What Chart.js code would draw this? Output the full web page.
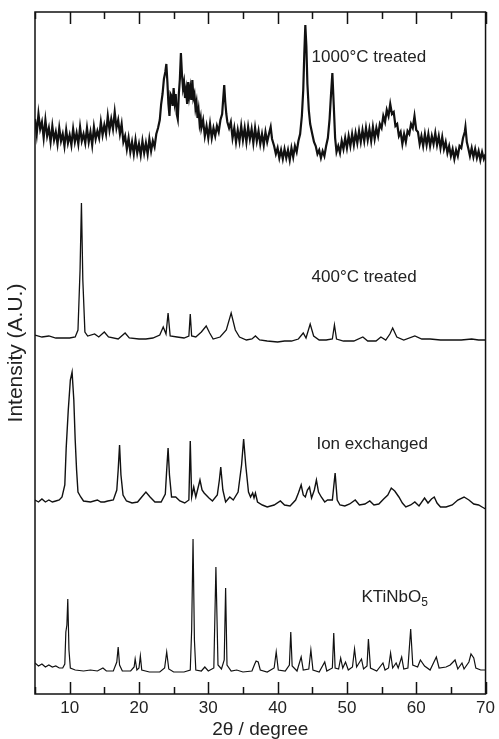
<!DOCTYPE html>
<html>
<head>
<meta charset="utf-8">
<script src="https://cdn.jsdelivr.net/npm/chart.js@4.4.0/dist/chart.umd.min.js"></script>
<style>
  body { margin: 0; background: #fff; }
  #wrap { width: 499px; height: 739px; }
</style>
</head>
<body>
<div id="wrap"><canvas id="xrdChart"></canvas></div>
<script>
// XRD patterns, [2theta, intensity (a.u., stacked)]
const treated1000 = [
  [5.00,575],[5.25,560],[5.50,580],[5.75,565],[6.00,572],[6.25,556],[6.50,574],[6.75,558],[7.00,566],[7.25,552],
  [7.50,568],[7.75,554],[8.00,562],[8.25,550],[8.50,566],[8.75,553],[9.00,560],[9.25,548],[9.50,564],[9.75,551],
  [10.00,559],[10.25,549],[10.50,565],[10.75,552],[11.00,561],[11.25,550],[11.50,567],[11.75,553],[12.00,560],[12.25,551],
  [12.50,566],[12.75,552],[13.00,562],[13.25,549],[13.50,567],[13.75,555],[14.00,563],[14.25,556],[14.50,572],[14.75,559],
  [15.00,569],[15.25,560],[15.50,578],[15.75,564],[16.00,575],[16.25,565],[16.50,582],[16.75,566],[17.00,574],[17.25,560],
  [17.50,570],[17.75,552],[18.00,558],[18.25,545],[18.50,556],[18.75,542],[19.00,552],[19.25,540],[19.50,554],[19.75,541],
  [20.00,550],[20.25,539],[20.50,553],[20.75,541],[21.00,551],[21.25,540],[21.50,555],[21.75,543],[22.00,553],[22.25,547],
  [22.50,560],[22.75,566],[23.00,574],[23.20,590],[23.40,600],[23.60,615],[23.80,622],[23.95,630],[24.10,612],[24.25,590],
  [24.40,578],[24.55,600],[24.70,598],[24.85,588],[25.00,606],[25.15,592],[25.30,600],[25.45,580],[25.60,575],[25.75,600],
  [25.90,615],[26.05,641],[26.20,620],[26.35,606],[26.50,612],[26.65,596],[26.80,604],[26.95,590],[27.10,612],[27.25,598],
  [27.40,606],[27.55,594],[27.70,614],[27.85,596],[28.00,600],[28.15,586],[28.30,592],[28.45,576],[28.60,584],[28.75,570],
  [28.90,576],[29.00,566],[29.25,574],[29.50,558],[29.75,568],[30.00,556],[30.25,570],[30.50,556],[30.75,566],[31.00,558],
  [31.25,568],[31.50,562],[31.75,574],[32.00,580],[32.15,595],[32.30,609],[32.45,592],[32.60,580],[32.75,572],[33.00,566],
  [33.25,572],[33.50,556],[33.75,566],[34.00,552],[34.25,564],[34.50,553],[34.75,568],[35.00,554],[35.25,566],[35.50,552],
  [35.75,567],[36.00,555],[36.25,565],[36.50,551],[36.75,566],[37.00,553],[37.25,563],[37.50,550],[37.75,560],[38.00,549],
  [38.25,562],[38.50,552],[38.75,560],[39.00,567],[39.20,555],[39.50,548],[39.75,540],[40.00,546],[40.25,536],[40.50,544],
  [40.75,535],[41.00,545],[41.25,536],[41.50,544],[41.75,534],[42.00,546],[42.25,537],[42.50,548],[42.75,542],[43.00,553],
  [43.25,560],[43.50,578],[43.70,604],[43.85,640],[44.00,669],[44.15,648],[44.30,610],[44.50,584],[44.70,570],[45.00,560],
  [45.25,552],[45.50,548],[45.75,540],[46.00,544],[46.25,536],[46.50,543],[46.75,538],[47.00,548],[47.25,556],[47.50,575],
  [47.70,599],[47.90,621],[48.10,589],[48.30,556],[48.50,542],[48.75,548],[49.00,541],[49.25,553],[49.50,545],[49.75,556],
  [50.00,546],[50.25,558],[50.50,548],[50.75,560],[51.00,549],[51.25,561],[51.50,551],[51.75,563],[52.00,552],[52.25,564],
  [52.50,553],[52.75,566],[53.00,554],[53.25,565],[53.50,553],[53.75,567],[54.00,555],[54.25,566],[54.50,558],[54.75,570],
  [55.00,566],[55.25,578],[55.50,572],[55.75,584],[56.00,578],[56.25,590],[56.50,580],[56.75,582],[57.00,568],[57.25,570],
  [57.50,558],[57.75,562],[58.00,550],[58.25,560],[58.50,552],[58.75,563],[59.00,560],[59.25,570],[59.50,566],[59.75,578],
  [60.00,564],[60.25,562],[60.50,550],[60.75,558],[61.00,548],[61.25,560],[61.50,549],[61.75,560],[62.00,548],[62.25,558],
  [62.50,550],[62.75,561],[63.00,549],[63.25,558],[63.50,546],[63.75,557],[64.00,545],[64.25,552],[64.50,541],[64.75,548],
  [65.00,538],[65.25,545],[65.50,535],[65.75,544],[66.00,538],[66.25,548],[66.50,546],[66.75,556],[67.00,562],[67.10,567],
  [67.30,552],[67.50,546],[67.75,538],[68.00,546],[68.25,537],[68.50,545],[68.75,536],[69.00,543],[69.25,534],[69.50,542],
  [69.75,535],[70.00,540]
];

const treated400 = [
  [5.0,359],[6.0,357],[7.0,358],[8.0,356],[9.0,356],[10.0,356],[10.8,357],[11.2,364],[11.5,424],[11.7,491],
  [11.9,414],[12.2,362],[12.6,358],[13.6,360],[14.2,357],[15.0,362],[15.6,357],[17.0,355],[18.0,361],[18.6,356],
  [20.0,355],[21.0,355],[22.0,356],[23.0,359],[23.5,367],[23.9,360],[24.2,381],[24.5,358],[25.5,357],[26.5,356],
  [27.2,358],[27.4,380],[27.6,358],[28.2,357],[29.0,362],[29.7,368],[30.2,361],[30.7,355],[31.7,357],[32.6,364],
  [33.3,381],[33.9,364],[34.5,357],[35.5,354],[36.3,355],[36.8,358],[37.4,354],[38.5,353],[40.0,352],[41.0,353],
  [42.0,353],[43.0,355],[43.7,361],[44.1,356],[44.7,370],[45.2,358],[46.0,354],[47.0,354],[47.9,355],[48.2,369],
  [48.5,355],[49.5,353],[51.0,353],[52.3,357],[53.0,353],[54.2,353],[54.9,357],[55.6,354],[56.2,360],[56.6,366],
  [57.2,357],[58.2,354],[59.8,358],[60.8,355],[62.0,355],[63.5,354],[65.0,354],[66.5,354],[68.0,355],[69.0,354],
  [70.0,354]
];

const ionExchanged = [
  [5.0,194],[5.5,192],[6.0,195],[6.5,192],[7.0,194],[7.5,192],[8.0,193],[8.5,194],[8.9,197],[9.3,209],
  [9.5,246],[9.8,284],[10.1,314],[10.35,322],[10.6,294],[10.8,254],[11.0,224],[11.2,202],[11.6,197],[12.0,193],
  [13.0,192],[14.0,194],[14.5,192],[15.0,192],[15.5,193],[16.3,194],[16.8,204],[17.0,224],[17.2,249],[17.4,219],
  [17.7,199],[18.2,193],[19.0,191],[19.8,192],[20.4,197],[21.0,202],[21.6,197],[22.3,192],[23.2,192],[23.8,200],
  [24.0,224],[24.2,246],[24.4,219],[24.7,197],[25.3,197],[25.9,193],[26.6,191],[27.2,194],[27.4,253],[27.6,197],
  [27.9,207],[28.2,197],[28.8,214],[29.1,204],[29.4,201],[30.1,196],[30.6,193],[31.3,199],[31.6,214],[31.8,227],
  [32.1,204],[32.5,192],[33.1,197],[33.6,194],[34.3,202],[34.8,229],[35.1,255],[35.4,229],[35.8,202],[36.1,197],
  [36.4,201],[36.6,196],[36.8,201],[37.1,192],[37.8,189],[38.5,187],[39.5,189],[40.4,193],[41.0,189],[41.8,188],
  [42.6,194],[43.0,201],[43.4,209],[43.7,199],[44.0,197],[44.3,204],[44.6,207],[44.9,196],[45.3,204],[45.6,214],
  [45.9,202],[46.3,197],[46.8,192],[47.2,194],[47.9,194],[48.3,221],[48.6,194],[49.0,189],[49.7,188],[50.4,190],
  [51.2,194],[51.8,189],[52.6,190],[53.3,193],[53.9,189],[54.6,190],[55.3,195],[55.9,199],[56.4,206],[56.9,203],
  [57.5,197],[58.0,191],[58.5,187],[59.2,189],[59.8,192],[60.4,188],[61.2,196],[61.7,191],[62.2,195],[62.6,197],
  [63.0,191],[63.5,187],[64.3,187],[65.2,189],[66.0,194],[66.9,197],[67.6,194],[68.3,190],[69.0,189],[69.5,187],
  [70.0,185]
];

const ktinbo5 = [
  [5.0,31],[5.5,28],[6.0,30],[6.5,27],[7.0,29],[7.5,27],[8.0,28],[8.5,26],[9.0,26],[9.3,30],
  [9.45,62],[9.6,69],[9.73,95],[9.9,44],[10.1,26],[10.8,24],[12.0,23],[13.0,24],[14.0,23],[14.8,26],
  [15.3,23],[16.3,23],[16.8,32],[17.0,47],[17.2,29],[17.6,23],[18.8,23],[19.3,27],[19.45,35],[19.7,24],
  [20.0,26],[20.2,38],[20.4,24],[21.5,22],[23.0,22],[23.7,26],[24.0,42],[24.3,25],[25.0,22],[26.5,22],
  [27.4,24],[27.6,64],[27.8,155],[28.0,54],[28.2,24],[29.0,23],[29.5,27],[30.0,23],[30.8,26],[31.1,127],
  [31.4,29],[31.9,25],[32.3,34],[32.5,106],[32.7,29],[33.3,23],[34.1,24],[35.0,22],[36.3,23],[36.7,30],
  [36.9,33],[37.2,32],[37.5,24],[38.5,22],[39.5,26],[39.8,42],[40.1,24],[41.1,23],[41.7,29],[41.9,62],
  [42.1,28],[42.8,23],[43.4,37],[43.7,24],[44.5,25],[44.8,44],[45.1,24],[46.0,22],[46.8,32],[47.1,23],
  [47.9,26],[48.1,61],[48.3,26],[48.8,25],[49.1,36],[49.4,26],[49.8,32],[50.2,24],[50.8,27],[51.1,45],
  [51.4,27],[52.1,35],[52.4,25],[52.9,28],[53.1,55],[53.4,26],[54.3,23],[55.2,31],[55.5,24],[56.0,26],
  [56.3,41],[56.6,26],[57.1,31],[57.4,26],[57.9,37],[58.2,25],[58.8,26],[59.2,65],[59.5,29],[60.2,27],
  [60.6,34],[61.2,28],[62.0,24],[62.9,37],[63.3,26],[64.3,27],[64.9,29],[65.6,34],[66.0,25],[66.6,31],
  [66.9,25],[67.6,32],[67.9,40],[68.3,36],[68.6,26],[69.3,24],[70.0,24]
];

const xTicks = [10, 20, 30, 40, 50, 60, 70];
const minorTicks = [5, 15, 25, 35, 45, 55, 65];
const sampleLabels = ['1000°C treated', '400°C treated', 'Ion exchanged', 'KTiNbO'];

const FONT = '"Liberation Sans", Arial, sans-serif';

// frame, inward ticks and the sample names
const framePlugin = {
  id: 'frame',
  afterDatasetsDraw(chart) {
    const ctx = chart.ctx;
    const a = chart.chartArea;
    const xs = chart.scales.x, ys = chart.scales.y;
    ctx.save();
    ctx.strokeStyle = '#111';
    ctx.lineWidth = 1.5;
    ctx.strokeRect(a.left, a.top, a.right - a.left, a.bottom - a.top);
    ctx.beginPath();
    xTicks.concat(minorTicks).forEach(v => {
      const px = Math.round(xs.getPixelForValue(v)) + 0.5;
      const len = xTicks.includes(v) ? 12 : 7;
      ctx.moveTo(px, a.bottom); ctx.lineTo(px, a.bottom - len);
      ctx.moveTo(px, a.top); ctx.lineTo(px, a.top + len);
    });
    ctx.stroke();

    ctx.fillStyle = '#222';
    ctx.font = '17px ' + FONT;
    ctx.textBaseline = 'middle';
    ctx.textAlign = 'left';
    const spots = [[44.9, 637], [44.9, 417], [45.6, 250], [52.1, 97]];
    sampleLabels.forEach((t, i) => {
      const px = xs.getPixelForValue(spots[i][0]);
      const py = ys.getPixelForValue(spots[i][1]);
      ctx.fillText(t, px, py);
      if (i === 3) {
        const w = ctx.measureText(t).width;
        ctx.font = '12px ' + FONT;
        ctx.fillText('5', px + w, py + 6);
        ctx.font = '17px ' + FONT;
      }
    });
    ctx.restore();
  }
};

const mk = (pts, w) => ({
  data: pts.map(p => ({x: p[0], y: p[1]})),
  showLine: true,
  borderColor: '#111',
  borderWidth: w,
  pointRadius: 0,
  tension: 0,
  fill: false
});

const ctx = document.getElementById('xrdChart').getContext('2d');
new Chart(ctx, {
  type: 'scatter',
  data: {
    datasets: [
      mk(treated1000, 2.2),
      mk(treated400, 1.3),
      mk(ionExchanged, 1.4),
      mk(ktinbo5, 1.2)
    ]
  },
  options: {
    responsive: true,
    maintainAspectRatio: false,
    animation: false,
    layout: { padding: { top: 12, right: 11, left: 0, bottom: 0 } },
    plugins: { legend: { display: false }, tooltip: { enabled: false } },
    scales: {
      x: {
        type: 'linear',
        min: 5,
        max: 70,
        afterBuildTicks: s => { s.ticks = xTicks.map(v => ({value: v})); },
        afterFit: s => { s.height = 45; },
        grid: { display: false, drawTicks: false },
        border: { display: false },
        ticks: { color: '#222', padding: 4, font: { family: FONT, size: 17 } },
        title: {
          display: true, text: '2θ / degree', color: '#222',
          padding: { top: 0, bottom: 0 },
          font: { family: FONT, size: 19, lineHeight: 1 }
        }
      },
      y: {
        min: 0,
        max: 682,
        afterFit: s => { s.width = 35; },
        grid: { display: false, drawTicks: false },
        border: { display: false },
        ticks: { display: false },
        title: {
          display: true, text: 'Intensity (A.U.)', color: '#222',
          padding: { top: 6, bottom: 0 },
          font: { family: FONT, size: 21, lineHeight: 1 }
        }
      }
    }
  },
  plugins: [framePlugin]
});
</script>
</body>
</html>
